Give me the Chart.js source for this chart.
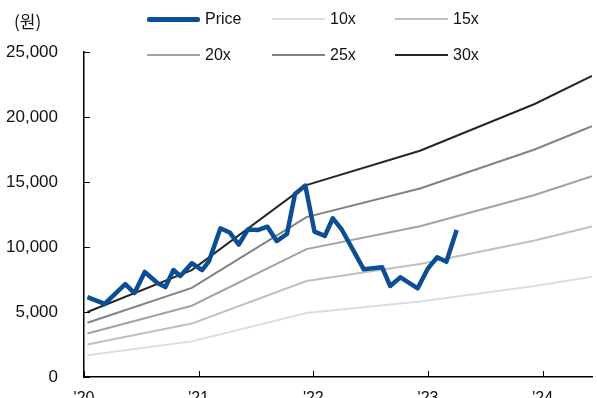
<!DOCTYPE html>
<html>
<head>
<meta charset="utf-8">
<script src="https://cdn.jsdelivr.net/npm/chart.js@4"></script>
<style>
  html, body { margin: 0; padding: 0; background: #fff; overflow: hidden; }
  #wrap { position: relative; width: 597px; height: 398px; overflow: hidden; }
  #unit { position: absolute; left: 14px; top: 8px; font: 17px 'Noto Sans CJK KR', 'Liberation Sans', sans-serif; color: #111; }
  .lg { position: absolute; display: flex; align-items: center; font: 16px 'Liberation Sans Narrow', 'Liberation Sans', Arial, sans-serif; color: #111; }
  .lg span.ln { display: inline-block; width: 53px; margin-right: 5px; }
</style>
</head>
<body>
<div id="wrap">
  <canvas id="lineChart" width="597" height="420"></canvas>
  <div id="unit">(원)</div>
  <div id="legend"></div>
</div>
<script>
// x positions are in years (2020.0 = start of '20)
const xTicks = [2020, 2021, 2022, 2023, 2024];
const yTicks = [0, 5000, 10000, 15000, 20000, 25000];

// PER band points
const bandDates = [2020.03, 2020.94, 2021.94, 2022.93, 2023.93, 2024.43];
const band10 = [1670, 2740, 4920, 5800, 7000, 7720];
const band15 = [2500, 4110, 7380, 8700, 10500, 11580];
const band20 = [3340, 5480, 9840, 11600, 14000, 15440];
const band25 = [4170, 6850, 12300, 14500, 17500, 19300];
const band30 = [5000, 8220, 14760, 17400, 21000, 23160];

// Share price (monthly)
const priceDates = [2020.03, 2020.18, 2020.36, 2020.44, 2020.53, 2020.64, 2020.71, 2020.78, 2020.84, 2020.94,
  2021.03, 2021.09, 2021.19, 2021.27, 2021.35, 2021.43, 2021.52, 2021.60, 2021.68, 2021.77,
  2021.84, 2021.93, 2022.01, 2022.10, 2022.17, 2022.25, 2022.44, 2022.60, 2022.67, 2022.76,
  2022.91, 2023.00, 2023.08, 2023.16, 2023.25];
const priceValues = [6150, 5620, 7150, 6460, 8080, 7230, 6920, 8230, 7770, 8750,
  8230, 8920, 11440, 11120, 10190, 11350, 11310, 11560, 10460, 11000,
  14080, 14730, 11180, 10850, 12210, 11310, 8280, 8440, 7000, 7670,
  6820, 8360, 9210, 8870, 11310];

const seriesLabels = ['Price', '10x', '15x', '20x', '25x', '30x'];
const seriesColors = ['#0b4e96', '#d5dfea', '#bfbfbf', '#a3a3a3', '#828282', '#262626'];

const fontFamily = "'Liberation Sans Narrow', 'Liberation Sans', Arial, sans-serif";

function toPoints(xs, ys) {
  return xs.map((x, i) => ({ x: x, y: ys[i] }));
}

// inward tick marks on both axes
const inwardTicks = {
  id: 'inwardTicks',
  afterDraw(chart) {
    const ctx = chart.ctx;
    const xs = chart.scales.x, ys = chart.scales.y;
    const area = chart.chartArea;
    ctx.save();
    ctx.strokeStyle = '#000';
    ctx.lineWidth = 1;
    ctx.beginPath();
    xTicks.forEach(v => {
      const px = Math.round(xs.getPixelForValue(v)) + 0.5;
      ctx.moveTo(px, area.bottom);
      ctx.lineTo(px, area.bottom - 6);
    });
    yTicks.forEach(v => {
      const py = Math.round(ys.getPixelForValue(v)) + 0.5;
      ctx.moveTo(area.left, py);
      ctx.lineTo(area.left + 6, py);
    });
    ctx.stroke();
    ctx.restore();
  }
};

const bands = [band10, band15, band20, band25, band30];
const datasets = [{
  label: seriesLabels[0],
  data: toPoints(priceDates, priceValues),
  borderColor: seriesColors[0],
  borderWidth: 4.5,
  borderJoinStyle: 'round',
  borderCapStyle: 'butt',
  pointRadius: 0,
  fill: false,
  order: 0
}];
bands.forEach((b, i) => {
  datasets.push({
    label: seriesLabels[i + 1],
    data: toPoints(bandDates, b),
    borderColor: seriesColors[i + 1],
    borderWidth: 2,
    pointRadius: 0,
    fill: false,
    order: 1
  });
});

new Chart(document.getElementById('lineChart').getContext('2d'), {
  type: 'line',
  data: { datasets: datasets },
  options: {
    responsive: false,
    animation: false,
    layout: { padding: { top: 52, right: 5, left: 0, bottom: 0 } },
    plugins: { legend: { display: false }, tooltip: { enabled: false } },
    scales: {
      x: {
        type: 'linear',
        min: 2020,
        max: 2024.43,
        afterFit: s => { s.height = 43; },
        afterBuildTicks: s => { s.ticks = xTicks.map(v => ({ value: v })); },
        grid: { display: false, drawTicks: false },
        border: { display: true, color: '#000', width: 1.5 },
        ticks: {
          padding: 12,
          color: '#111',
          font: { family: fontFamily, size: 16 },
          callback: v => "'" + String(v).slice(2)
        }
      },
      y: {
        min: 0,
        max: 25000,
        afterFit: s => { s.width = 84; },
        afterBuildTicks: s => { s.ticks = yTicks.map(v => ({ value: v })); },
        grid: { display: false, drawTicks: false },
        border: { display: true, color: '#000', width: 1.5 },
        ticks: {
          padding: 26,
          color: '#111',
          font: { family: fontFamily, size: 17 },
          callback: v => v.toLocaleString('en-US')
        }
      }
    }
  },
  plugins: [inwardTicks]
});

// legend laid out in two rows of three, as in the source
const legendCols = [147, 272, 395];
const legendRows = [19, 55];
const legendBox = document.getElementById('legend');
seriesLabels.forEach((name, i) => {
  const item = document.createElement('div');
  item.className = 'lg';
  item.style.left = legendCols[i % 3] + 'px';
  item.style.top = (legendRows[Math.floor(i / 3)] - 10) + 'px';
  item.style.height = '20px';
  const ln = document.createElement('span');
  ln.className = 'ln';
  ln.style.height = (i === 0 ? 5 : 2.5) + 'px';
  ln.style.background = seriesColors[i];
  ln.style.borderRadius = i === 0 ? '2px' : '0';
  item.appendChild(ln);
  item.appendChild(document.createTextNode(name));
  legendBox.appendChild(item);
});
</script>
</body>
</html>
